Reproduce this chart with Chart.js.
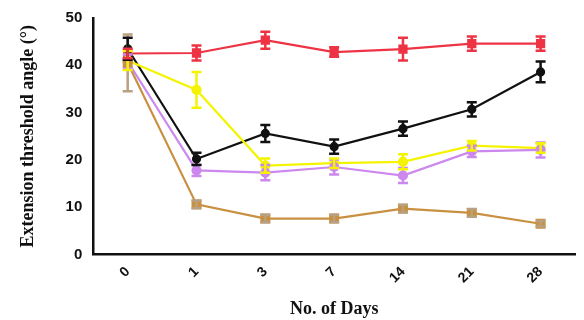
<!DOCTYPE html>
<html><head><meta charset="utf-8">
<script src="https://cdn.jsdelivr.net/npm/chart.js@4/dist/chart.umd.min.js"></script>
<style>html,body{margin:0;padding:0;background:#fff}canvas{display:block}</style>
</head><body>
<canvas id="c" width="584" height="320"></canvas>
<script>
const days = ['0','1','3','7','14','21','28'];
const redVals    = [42.5, 42.6, 45.3, 42.8, 43.4, 44.6, 44.6];
const redErr     = [1.0, 1.6, 1.8, 1.0, 2.4, 1.5, 1.5];
const blackVals  = [43.5, 20.2, 25.6, 22.8, 26.6, 30.7, 38.6];
const blackErr   = [2.3, 1.3, 1.8, 1.5, 1.5, 1.5, 2.2];
const yellowVals = [41.0, 34.8, 18.8, 19.3, 19.6, 23.0, 22.5];
const yellowErr  = [2.0, 3.8, 1.5, 1.0, 1.6, 1.0, 1.0];
const purpleVals = [40.8, 17.8, 17.3, 18.5, 16.7, 21.8, 22.1];
const purpleErr  = [1.5, 1.2, 1.6, 1.6, 1.6, 1.2, 1.6];
const brownVals  = [40.5, 10.6, 7.6, 7.6, 9.7, 8.8, 6.5];
const brownErr   = [6.0, 0.8, 0.8, 0.8, 0.8, 0.8, 0.6];
const yTicks = [0, 10, 20, 30, 40, 50];

const errorBars = {
  id: 'errorBars',
  afterDatasetsDraw(chart) {
    const ctx = chart.ctx, ys = chart.scales.y;
    chart.data.datasets.forEach((ds, i) => {
      const meta = chart.getDatasetMeta(i);
      ctx.save();
      ctx.strokeStyle = ds.errColor; ctx.lineWidth = 2.5;
      meta.data.forEach((pt, j) => {
        const v = ds.data[j], e = ds.err[j];
        const yt = ys.getPixelForValue(v + e), yb = ys.getPixelForValue(v - e);
        const x = pt.x, w = 5;
        ctx.beginPath();
        ctx.moveTo(x, yt); ctx.lineTo(x, yb);
        ctx.moveTo(x - w, yt); ctx.lineTo(x + w, yt);
        ctx.moveTo(x - w, yb); ctx.lineTo(x + w, yb);
        ctx.stroke();
      });
      ctx.restore();
    });
  }
};

function ds(data, err, color, errColor, style, r) {
  return { data, err, errColor, borderColor: color, backgroundColor: color,
    pointStyle: style, pointRadius: r, pointBorderColor: color, pointBackgroundColor: color,
    borderWidth: 2.2, tension: 0 };
}

new Chart(document.getElementById('c'), {
  type: 'line',
  data: {
    labels: days,
    datasets: [
      ds(brownVals, brownErr, '#c89040', '#b8a080', 'rect', 5.5),
      ds(purpleVals, purpleErr, '#cc88ee', '#cc88ee', 'circle', 4),
      ds(yellowVals, yellowErr, '#f4f400', '#f4f400', 'circle', 4),
      ds(blackVals, blackErr, '#111111', '#111111', 'circle', 3.5),
      ds(redVals, redErr, '#ee3344', '#ee3344', 'rect', 5)
    ]
  },
  options: {
    responsive: false, animation: false, devicePixelRatio: 1,
    layout: { padding: { left: 18, right: 9, top: 18, bottom: 0 } },
    plugins: { legend: { display: false }, tooltip: { enabled: false } },
    scales: {
      x: {
        offset: true,
        grid: { display: false, drawTicks: true, tickLength: 6, tickColor: '#111', tickWidth: 2 },
        border: { color: '#111', width: 2.5 },
        ticks: { color: '#111', minRotation: 45, maxRotation: 45, padding: 3,
          font: { family: 'Liberation Sans, Arial', weight: 'bold', size: 14 } },
        title: { display: true, text: 'No. of Days', color: '#111', padding: { top: 9, bottom: 0 },
          font: { family: 'Liberation Serif, Times New Roman', weight: 'bold', size: 18 } }
      },
      y: {
        min: 0, max: 50,
        afterBuildTicks(ax) { ax.ticks = yTicks.map(v => ({ value: v })); },
        grid: { display: false, drawTicks: true, tickLength: 7, tickColor: '#111', tickWidth: 2 },
        border: { color: '#111', width: 2.5 },
        ticks: { color: '#111', padding: 4,
          font: { family: 'Liberation Sans, Arial', weight: 'bold', size: 15 } },
        title: { display: true, text: 'Extension threshold angle (°)', color: '#111', padding: { top: 0, bottom: 22 },
          font: { family: 'Liberation Serif, Times New Roman', weight: 'bold', size: 18 } }
      }
    }
  },
  plugins: [errorBars]
});
</script>
</body></html>
